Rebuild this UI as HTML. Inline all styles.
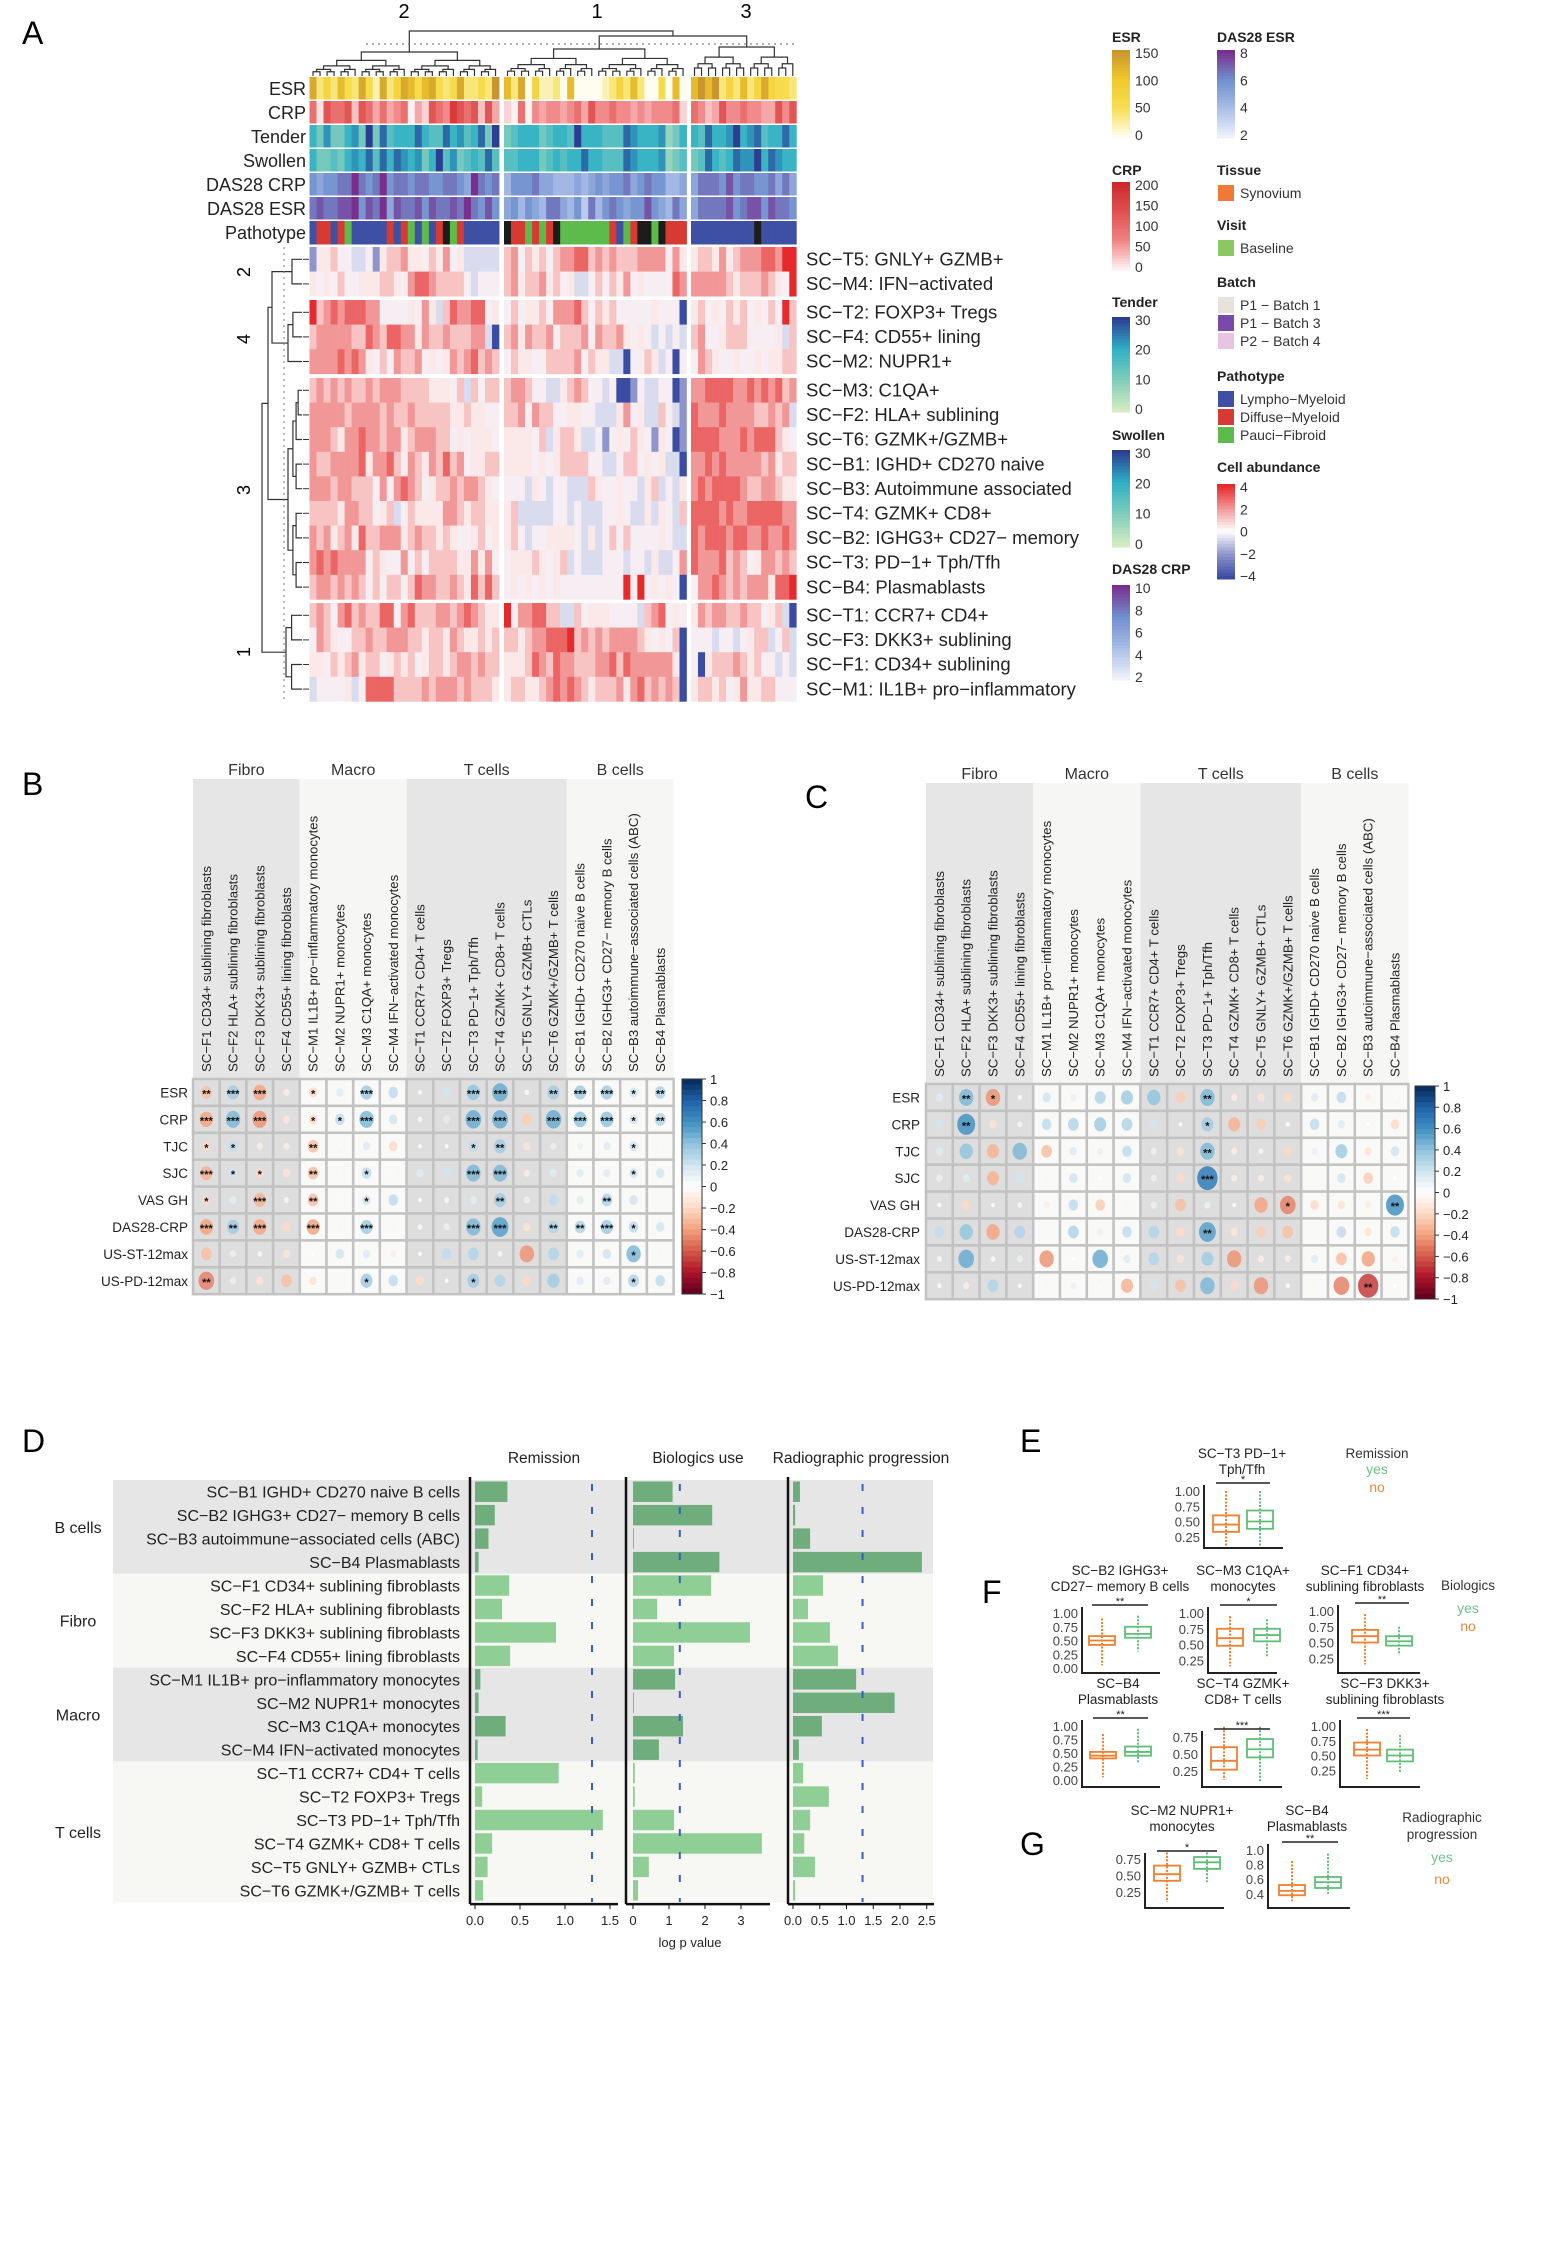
<!DOCTYPE html>
<html><head><meta charset="utf-8"><title>Figure</title>
<style>
html,body{margin:0;padding:0;background:#fff;}
svg{display:block;font-family:"Liberation Sans",Arial,sans-serif;}
</style></head>
<body>
<svg id="fig" xmlns="http://www.w3.org/2000/svg" width="1557" height="2249" viewBox="0 0 1557 2249">
<rect x="0" y="0" width="1557" height="2249" fill="#fff"/>
<text x="22" y="44" font-size="32">A</text>
<text x="22" y="795" font-size="32">B</text>
<text x="805" y="808" font-size="32">C</text>
<text x="22" y="1452" font-size="32">D</text>
<text x="1020" y="1452" font-size="32">E</text>
<text x="982" y="1603" font-size="32">F</text>
<text x="1020" y="1855" font-size="32">G</text>
<g id="gA"></g>
<g id="gB"></g>
<g id="gC"></g>
<g id="gD"></g>
<g id="gE"></g>
</svg>
<script>
// ================= DATA =================
const heatRowNames = ["SC−T5: GNLY+ GZMB+","SC−M4: IFN−activated","SC−T2: FOXP3+ Tregs","SC−F4: CD55+ lining","SC−M2: NUPR1+","SC−M3: C1QA+","SC−F2: HLA+ sublining","SC−T6: GZMK+/GZMB+","SC−B1: IGHD+ CD270 naive","SC−B3: Autoimmune associated","SC−T4: GZMK+ CD8+","SC−B2: IGHG3+ CD27− memory","SC−T3: PD−1+ Tph/Tfh","SC−B4: Plasmablasts","SC−T1: CCR7+ CD4+","SC−F3: DKK3+ sublining","SC−F1: CD34+ sublining","SC−M1: IL1B+ pro−inflammatory"];
const heatRowGroups = [0,0,1,1,1,2,2,2,2,2,2,2,2,2,3,3,3,3];
const heatRows = [
"144533223145564435463422222|56354535667756565556666364|455464566677688",
"434353344455436776555532333|56455645342235354634333376|666665455565438",
"856767776633334364257667734|35344536667535453333343330|453435453435385",
"566666557657766465565556620|56465563555636556434323232|563345553333425",
"666676764353655634346567565|35443355556354422033542303|365433433434455",
"565656556566655554443525355|56653322456533230013223301|667777667676756",
"666665666656556555554454433|55636553344332224634225321|766676666556562",
"666546676656645666553434443|44443524554223134354314301|777766676777543",
"655666674667536546575634455|44443434555533223553434220|667676666656455",
"666566555363676534556566543|33324323322254334332452324|676777765566544",
"555546655345235444466545544|45222223323222334322424325|777767667777766",
"656456475566645655454334534|45323344443242353533334322|767776776676676",
"676766663543363535555446463|34445434523222333233242236|766675653466565",
"566565653535535766556547575|34343434333333333838343430|366765656664778",
"565367565577367555665676544|83667755225344433332567343|465665565534520",
"365433556556665545546544545|55456677785656566665434350|333233234552352",
"443545645534545345545665655|44457657665556675766666640|304555654533232",
"233334237777555565666565554|45544567676545556467565650|455453464455333"];
const annoNames = ["ESR","CRP","Tender","Swollen","DAS28 CRP","DAS28 ESR"];
const annoRows = [
"724263273172476367323722328|62704112060000124262003060|686824262474332",
"617667376464560427658767374|20605455456475565545455562|653475565544757",
"536335638374555754475645738|34555345548555444765556235|547556856745575",
"533435657475765635846345474|44555345455755444765556234|347545766857655",
"545566865685665665566548656|35556443334345455645655334|466657566556464",
"676677857684766757667686575|45354366435263565455754364|466667567757665"];
const pathoRow = "LDDLDGLLLLLDLDGLGLDUGDLLLLL|UDDGDGDUGGGGGGGDLGDUUGUDDD|LLLLLLLLLULLLLL";

const corrCols = ["SC−F1 CD34+ sublining fibroblasts","SC−F2 HLA+ sublining fibroblasts","SC−F3 DKK3+ sublining fibroblasts","SC−F4 CD55+ lining fibroblasts","SC−M1 IL1B+ pro−inflammatory monocytes","SC−M2 NUPR1+ monocytes","SC−M3 C1QA+ monocytes","SC−M4 IFN−activated monocytes","SC−T1 CCR7+ CD4+ T cells","SC−T2 FOXP3+ Tregs","SC−T3 PD−1+ Tph/Tfh","SC−T4 GZMK+ CD8+ T cells","SC−T5 GNLY+ GZMB+ CTLs","SC−T6 GZMK+/GZMB+ T cells","SC−B1 IGHD+ CD270 naive B cells","SC−B2 IGHG3+ CD27− memory B cells","SC−B3 autoimmune−associated cells (ABC)","SC−B4 Plasmablasts"];
const corrRowsLbl = ["ESR","CRP","TJC","SJC","VAS GH","DAS28-CRP","US-ST-12max","US-PD-12max"];
const corrGroups = ["Fibro","Macro","T cells","B cells"];
const corrB = [
[-0.3,0.35,-0.4,-0.1,-0.2,0.15,0.35,0.25,0,0.2,0.4,0.5,-0.05,0.35,0.35,0.35,0.2,0.3],
[-0.4,0.45,-0.45,-0.15,-0.2,0.25,0.45,0.2,0.03,0.15,0.5,0.5,-0.25,0.5,0.4,0.4,0.2,0.3],
[-0.2,0.25,-0.1,-0.1,-0.3,0.02,0.15,-0.2,0,0,0.25,0.35,-0.15,0.1,0.1,0.15,0.2,0.03],
[-0.35,0.2,-0.2,-0.15,-0.3,0.02,0.25,0.02,0.15,0.2,0.45,0.45,-0.1,0.15,0.15,0.15,0.2,0.2],
[-0.2,0.15,-0.35,-0.05,-0.3,0.03,0.2,0.25,0,0.05,0.15,0.35,-0.1,0.25,0.15,0.3,0.2,0.05],
[-0.4,0.35,-0.4,-0.2,-0.4,0.05,0.35,0.05,0.05,0.1,0.45,0.55,-0.15,0.3,0.3,0.35,0.25,0.2],
[-0.3,0.1,-0.05,-0.15,0,0.2,0.15,-0.1,0,0.25,0.3,-0.05,-0.45,0.3,0.15,0.2,0.45,0.05],
[-0.5,0.1,-0.15,-0.3,-0.15,0.05,0.35,0.25,-0.2,0,0.35,0.3,-0.2,0.35,0.15,0.15,0.3,0.25]];
const starsB = [
"2,3,3,0,1,0,3,0,0,0,3,3,0,2,3,3,1,2","3,3,3,0,1,1,3,0,0,0,3,3,0,3,3,3,1,2","1,1,0,0,2,0,0,0,0,0,1,2,0,0,0,0,1,0","3,1,1,0,2,0,1,0,0,0,3,3,0,0,0,0,1,0",
"1,0,3,0,2,0,1,0,0,0,0,2,0,0,0,2,0,0","3,2,3,0,3,0,3,0,0,0,3,3,0,2,2,3,1,0","0,0,0,0,0,0,0,0,0,0,0,0,0,0,0,0,1,0","2,0,0,0,0,0,1,0,0,0,1,0,0,0,0,0,1,0"];
const corrC = [
[0.15,0.45,-0.45,-0.03,0.2,0.1,0.3,0.35,0.4,-0.25,0.45,-0.1,-0.15,-0.2,0.15,0.25,-0.1,-0.02],
[0.2,0.6,-0.15,-0.05,0.25,0.3,0.35,0.3,0.2,0,0.35,-0.35,-0.25,-0.03,0.25,0.15,0,-0.2],
[0.15,0.4,-0.35,0.45,-0.3,0.15,0.1,0.25,0.1,-0.15,0.45,-0.1,-0.05,-0.2,0.1,0.35,-0.15,0.2],
[0.1,0.15,-0.35,0.2,-0.05,0.2,0,0.2,0.1,-0.2,0.7,-0.1,-0.1,-0.15,0.05,0.2,-0.25,0],
[0.02,-0.2,0,0.05,-0.1,0.25,-0.25,-0.05,0.1,-0.3,0.1,0,-0.4,-0.5,-0.2,-0.15,-0.1,0.6],
[0.25,0.4,-0.4,0.3,-0.05,0.3,0.1,0.25,0.3,-0.2,0.55,-0.15,-0.25,-0.3,0.05,0.25,-0.15,0.25],
[0.05,0.5,0.05,0.1,-0.45,0,0.5,0.15,0.3,-0.15,0.35,-0.45,-0.1,-0.1,0.15,-0.3,-0.4,-0.1],
[0.02,-0.1,0.3,0,-0.05,0.1,-0.03,-0.35,0.2,-0.3,0.45,-0.2,-0.45,-0.02,-0.05,-0.5,-0.7,0]];
const starsC = [
"0,2,1,0,0,0,0,0,0,0,2,0,0,0,0,0,0,0","0,2,0,0,0,0,0,0,0,0,1,0,0,0,0,0,0,0","0,0,0,0,0,0,0,0,0,0,2,0,0,0,0,0,0,0","0,0,0,0,0,0,0,0,0,0,3,0,0,0,0,0,0,0",
"0,0,0,0,0,0,0,0,0,0,0,0,0,1,0,0,0,2","0,0,0,0,0,0,0,0,0,0,2,0,0,0,0,0,0,0","0,0,0,0,0,0,0,0,0,0,0,0,0,0,0,0,0,0","0,0,0,0,0,0,0,0,0,0,0,0,0,0,0,0,2,0"];
const cbTicks = ["1","0.8","0.6","0.4","0.2","0","−0.2","−0.4","−0.6","−0.8","−1"];

const dRows = ["SC−B1 IGHD+ CD270 naive B cells","SC−B2 IGHG3+ CD27− memory B cells","SC−B3 autoimmune−associated cells (ABC)","SC−B4 Plasmablasts","SC−F1 CD34+ sublining fibroblasts","SC−F2 HLA+ sublining fibroblasts","SC−F3 DKK3+ sublining fibroblasts","SC−F4 CD55+ lining fibroblasts","SC−M1 IL1B+ pro−inflammatory monocytes","SC−M2 NUPR1+ monocytes","SC−M3 C1QA+ monocytes","SC−M4 IFN−activated monocytes","SC−T1 CCR7+ CD4+ T cells","SC−T2 FOXP3+ Tregs","SC−T3 PD−1+ Tph/Tfh","SC−T4 GZMK+ CD8+ T cells","SC−T5 GNLY+ GZMB+ CTLs","SC−T6 GZMK+/GZMB+ T cells"];
const dGroups = ["B cells","Fibro","Macro","T cells"];
const remission = [0.36,0.22,0.15,0.04,0.38,0.3,0.9,0.39,0.06,0.04,0.34,0.03,0.93,0.08,1.42,0.19,0.14,0.09];
const biologics = [1.1,2.2,0.02,2.4,2.17,0.67,3.25,1.14,1.17,0,1.39,0.72,0.05,0.05,1.14,3.58,0.44,0.14];
const radiographic = [0.13,0.04,0.32,2.41,0.56,0.28,0.69,0.84,1.18,1.9,0.54,0.11,0.19,0.67,0.32,0.21,0.41,0.04];
const remTicks = ["0.0","0.5","1.0","1.5"];
const bioTicks = ["0","1","2","3"];
const radTicks = ["0.0","0.5","1.0","1.5","2.0","2.5"];
const sigThreshold = 1.3;

const boxTitles = [["SC−T3 PD−1+","Tph/Tfh"],["SC−B2 IGHG3+","CD27− memory B cells"],["SC−M3 C1QA+","monocytes"],["SC−F1 CD34+","sublining fibroblasts"],["SC−B4","Plasmablasts"],["SC−T4 GZMK+","CD8+ T cells"],["SC−F3 DKK3+","sublining fibroblasts"],["SC−M2 NUPR1+","monocytes"],["SC−B4","Plasmablasts"]];
const boxNo = [[0.1,0.33,0.45,0.6,1.0],[0.05,0.42,0.5,0.58,0.9],[0.15,0.48,0.6,0.75,0.95],[0.15,0.5,0.6,0.7,0.95],[0.05,0.4,0.45,0.52,0.85],[0.12,0.27,0.4,0.6,0.9],[0.1,0.5,0.6,0.72,0.95],[0.1,0.42,0.52,0.65,0.85],[0.3,0.38,0.44,0.52,0.85]];
const boxYes = [[0.1,0.38,0.5,0.68,1.0],[0.3,0.55,0.62,0.75,0.95],[0.3,0.55,0.65,0.75,0.9],[0.3,0.45,0.52,0.6,0.75],[0.3,0.45,0.52,0.62,0.95],[0.1,0.45,0.57,0.72,0.9],[0.2,0.4,0.5,0.6,0.85],[0.4,0.6,0.7,0.78,0.85],[0.38,0.48,0.56,0.63,0.95]];
const boxSig = ["*","**","*","**","**","***","***","*","**"];
const boxTickSets = [["1.00","0.75","0.50","0.25"],["1.00","0.75","0.50","0.25","0.00"],["1.00","0.75","0.50","0.25"],["1.00","0.75","0.50","0.25"],["1.00","0.75","0.50","0.25","0.00"],["0.75","0.50","0.25"],["1.00","0.75","0.50","0.25"],["0.75","0.50","0.25"],["1.0","0.8","0.6","0.4"]];

// ================= HELPERS =================
const NS = "http://www.w3.org/2000/svg";
function mk(tag, attrs, parent){const e=document.createElementNS(NS,tag);for(const k in attrs)e.setAttribute(k,attrs[k]);parent.appendChild(e);return e;}
function txt(s, attrs, parent){const e=mk("text",attrs,parent);e.textContent=s;return e;}
function hex(c){return [parseInt(c.slice(1,3),16),parseInt(c.slice(3,5),16),parseInt(c.slice(5,7),16)];}
function ramp(stops, t){t=Math.max(0,Math.min(1,t));const n=stops.length-1;const i=Math.min(n-1,Math.floor(t*n));const f=t*n-i;const a=hex(stops[i]),b=hex(stops[i+1]);return "rgb("+a.map((v,k)=>Math.round(v+(b[k]-v)*f)).join(",")+")";}
const heatStops=["#3b4ca3","#8e95cc","#d9dbee","#f6eef2","#fbe9e9","#f7c3c3","#f19797","#ec6565","#e62a2c"];
function heatCol(d){const s=heatStops;return s[Math.max(0,Math.min(8,d))];}
const rdbu=["#67001f","#b2182b","#d6604d","#f4a582","#fddbc7","#ffffff","#d1e5f0","#92c5de","#4393c3","#2166ac","#053061"];
const annoStops=[["#fffdf0","#f7de52","#f0c92c","#c9962e"],["#fdf0f0","#f9caca","#f08282","#d93a3a"],["#d4ecc0","#7fcdbb","#2fb0c6","#2c3e92"],["#d4ecc0","#7fcdbb","#2fb0c6","#2c3e92"],["#eef1fa","#a9bde6","#6f8fce","#7a2f8f"],["#eef1fa","#a9bde6","#6f8fce","#7a2f8f"]];
const pathoColors={L:"#3d50a3",D:"#d63a33",G:"#5dbb4c",U:"#1c1c1c"};

// ================= PANEL A =================
(function(){
 const g=document.getElementById("gA");
 const colW=7.02, clusterX=[309.5,504,691], rowH=24.6;
 const annoY=[77,101,125,149,173,197,221], annoH=22.5;
 const groupY=[247,300,378,603];
 function rowY(i){const grp=heatRowGroups[i];let first=heatRowGroups.indexOf(grp);return groupY[grp]+(i-first)*rowH;}
 annoRows.forEach((r,ri)=>{
  const parts=r.split("|");
  parts.forEach((p,ci)=>{for(let j=0;j<p.length;j++){
   const v=+p[j];
   const el=mk("rect",{x:clusterX[ci]+j*colW,y:annoY[ri],width:colW+0.4,height:annoH,fill:ramp(annoStops[ri],v/8)},g);
   
   
  }});
  const l=txt(annoNames[ri],{x:306,y:annoY[ri]+18,"font-size":18,"text-anchor":"end",fill:"#222"},g);
  
  
 });
 pathoRow.split("|").forEach((p,ci)=>{for(let j=0;j<p.length;j++){
  const el=mk("rect",{x:clusterX[ci]+j*colW,y:annoY[6],width:colW+0.4,height:annoH+1,fill:pathoColors[p[j]]},g);
  
  
 }});
 const pl=txt("Pathotype",{x:306,y:annoY[6]+18,"font-size":18,"text-anchor":"end",fill:"#222"},g);
 
 
 heatRows.forEach((r,ri)=>{
  const y=rowY(ri);
  r.split("|").forEach((p,ci)=>{for(let j=0;j<p.length;j++){
   const el=mk("rect",{x:clusterX[ci]+j*colW,y:y,width:colW+0.3,height:rowH+0.3,fill:heatCol(+p[j])},g);
   
   
  }});
  const l=txt(heatRowNames[ri],{x:806,y:y+18.5,"font-size":18.5,fill:"#222"},g);
  
  
  const tk=mk("line",{x1:303,x2:309,y1:y+rowH/2,y2:y+rowH/2,stroke:"#333","stroke-width":1},g);
  
  
 });
 function ctree(x0,n,top,bot){
  if(n===1)return {x:x0+colW/2,y:bot};
  const a=Math.ceil(n/2);
  const h=top+(bot-top)*0.35;
  const L=ctree(x0,a,h,bot),R=ctree(x0+a*colW,n-a,h,bot);
  const p=mk("path",{d:`M${L.x},${L.y}V${top}H${R.x}V${R.y}`,fill:"none",stroke:"#333","stroke-width":1.2},g);
  
  
  return {x:(L.x+R.x)/2,y:top};
 }
 const c2=ctree(clusterX[0],27,52,76), c1=ctree(clusterX[1],26,49,76), c3=ctree(clusterX[2],15,47,76);
 const j13=mk("path",{d:`M${c1.x},${c1.y}V36H${c3.x}V${c3.y}`,fill:"none",stroke:"#333","stroke-width":1.2},g);
 
 
 const mid=(c1.x+c3.x)/2;
 const root=mk("path",{d:`M${c2.x},${c2.y}V31H${mid}V36`,fill:"none",stroke:"#333","stroke-width":1.2},g);
 
 
 const dot=mk("line",{x1:366,x2:796,y1:44,y2:44,stroke:"#666","stroke-width":1,"stroke-dasharray":"2,4"},g);
 
 
 [["2",404],["1",597],["3",746]].forEach(([s,x])=>{const t=txt(s,{x:x,y:18,"font-size":20,"text-anchor":"middle"},g);
  
  });
 function rtree(i0,n,left,right){
  if(n===1)return {y:rowY(i0)+rowH/2,x:right};
  const a=Math.ceil(n/2);const h=left+(right-left)*0.35;
  const T=rtree(i0,a,h,right),B=rtree(i0+a,n-a,h,right);
  const p=mk("path",{d:`M${T.x},${T.y}H${left}V${B.y}H${B.x}`,fill:"none",stroke:"#333","stroke-width":1.2},g);
  
  
  return {y:(T.y+B.y)/2,x:left};
 }
 const gs=[[0,2,292],[2,3,288],[5,9,288],[14,4,286]].map(([i,n,l])=>rtree(i,n,l,302));
 const link=(A,B,x)=>{const p=mk("path",{d:`M${A.x},${A.y}H${x}V${B.y}H${B.x}`,fill:"none",stroke:"#333","stroke-width":1.2},g);
  
  return {x:x,y:(A.y+B.y)/2};};
 const a24=link(gs[0],gs[1],272), a243=link(a24,gs[2],268), all=link(a243,gs[3],262);
 const rd=mk("line",{x1:284,x2:284,y1:247,y2:702,stroke:"#777","stroke-width":1,"stroke-dasharray":"2,4"},g);
 
 
 [["2",272],["4",339],["3",490],["1",652]].forEach(([s,y])=>{const t=txt(s,{x:0,y:0,"font-size":18,"text-anchor":"middle",transform:`translate(250,${y}) rotate(-90)`},g);
  
  });
 const bars=[["ESR",1112,42,50,138,["150","100","50","0"],annoStops[0]],["CRP",1112,175,182,270,["200","150","100","50","0"],["#fdf0f0","#f08282","#e05050","#cc2a2a"]],["Tender",1112,307,317,412,["30","20","10","0"],annoStops[2]],["Swollen",1112,440,450,547,["30","20","10","0"],annoStops[3]],["DAS28 CRP",1112,574,585,680,["10","8","6","4","2"],annoStops[4]],["DAS28 ESR",1217,42,50,138,["8","6","4","2"],annoStops[5]],["Cell abundance",1217,472,484,579,["4","2","0","−2","−4"],[heatStops[8],heatStops[6],"#ffffff",heatStops[1],heatStops[0]].reverse()]];
 bars.forEach(([title,x,ty,y0,y1,ticks,stops],bi)=>{
  const t=txt(title,{x:x,y:ty,"font-size":14,"font-weight":"bold",fill:"#222"},g);
  
  
  const N=30;for(let k=0;k<N;k++){const r=mk("rect",{x:x,y:y0+(y1-y0)*k/N,width:18,height:(y1-y0)/N+0.5,fill:ramp(stops,1-k/(N-1))},g);
   
   }
  ticks.forEach((s,k)=>{const yy=y0+3+(y1-y0-6)*k/(ticks.length-1);
   const l=txt(s,{x:x+23,y:yy+5,"font-size":14,fill:"#333"},g);
   
   });
 });
 const cats=[["Tissue",175,[["Synovium","#f07a35"]]],["Visit",230,[["Baseline","#8cc862"]]],["Batch",287,[["P1 − Batch 1","#e9e2dc"],["P1 − Batch 3","#7a4aa8"],["P2 − Batch 4","#e8c4e4"]]],["Pathotype",381,[["Lympho−Myeloid","#3d50a3"],["Diffuse−Myeloid","#d63a33"],["Pauci−Fibroid","#5dbb4c"]]]];
 cats.forEach(([title,ty,items])=>{
  const t=txt(title,{x:1217,y:ty,"font-size":14,"font-weight":"bold",fill:"#222"},g);
  
  
  items.forEach(([s,c],k)=>{const yy=ty+10+k*18;
   const r=mk("rect",{x:1218,y:yy,width:16,height:16,fill:c},g);
   
   
   const l=txt(s,{x:1240,y:yy+13,"font-size":14,fill:"#333"},g);
   
   });
 });
})();

// ================= PANELS B & C =================
function corrPanel(gid,x0,y0,cw,rh,bandTop,hdrY,mat,stars,cbx,cby0,cby1,labBottom,rowLabX){
 const g=document.getElementById(gid);
 const groupStart=[0,4,8,14,18];
 for(let k=0;k<4;k++){
  const xa=x0+groupStart[k]*cw, xb=x0+groupStart[k+1]*cw;
  const b=mk("rect",{x:xa,y:bandTop,width:xb-xa,height:y0+8*rh-bandTop,fill:(k%2===0)?"#e6e6e6":"#f6f6f4"},g);
  
  
  const h=txt(corrGroups[k],{x:(xa+xb)/2,y:hdrY,"font-size":16,"text-anchor":"middle",fill:"#333"},g);
  
  
 }
 corrCols.forEach((s,j)=>{const t=txt(s,{x:0,y:0,"font-size":13.2,fill:"#222",transform:`translate(${x0+j*cw+cw/2+4.5},${labBottom}) rotate(-90)`},g);
  
  });
 mat.forEach((row,i)=>{
  const st=stars[i].split(",").map(Number);
  row.forEach((v,j)=>{
   const grp=j<4?0:j<8?1:j<14?2:3;
   const cx=x0+j*cw, cy=y0+i*rh;
   const c=mk("rect",{x:cx,y:cy,width:cw,height:rh,fill:(grp%2===0)?"#dedede":"#f9f9f8",stroke:"#c2c2c2","stroke-width":2.5},g);
   
   
   const r=2+Math.abs(v)*13;
   const e=mk("ellipse",{cx:cx+cw/2,cy:cy+rh/2,rx:r*0.92,ry:r*1.08,fill:ramp(rdbu,(v+1)/2),opacity:0.85},g);
   
   
   if(st[j]>0){const s=txt("*".repeat(st[j]),{x:cx+cw/2,y:cy+rh/2+5,"font-size":11,"text-anchor":"middle","font-weight":"bold",fill:"#111"},g);
    
    }
  });
  const l=txt(corrRowsLbl[i],{x:rowLabX,y:y0+i*rh+rh/2+5,"font-size":13.5,"text-anchor":"end",fill:"#222"},g);
  
  
 });
 const N=40;for(let k=0;k<N;k++){const r=mk("rect",{x:cbx,y:cby0+(cby1-cby0)*k/N,width:20,height:(cby1-cby0)/N+0.5,fill:ramp(rdbu,1-k/(N-1))},g);
  
  }
 const fr=mk("rect",{x:cbx,y:cby0,width:20,height:cby1-cby0,fill:"none",stroke:"#333","stroke-width":1},g);
 
 
 cbTicks.forEach((s,k)=>{const yy=cby0+(cby1-cby0)*k/10;
  const t=txt(s,{x:cbx+28,y:yy+5,"font-size":13,fill:"#222"},g);
  
  
  const tk=mk("line",{x1:cbx+20,x2:cbx+24,y1:yy,y2:yy,stroke:"#333"},g);
  
  });
}
corrPanel("gB",193,1079,26.7,26.9,779,775,corrB,starsB,682,1079,1294,1072,188);
corrPanel("gC",926,1084,26.8,26.9,783,779,corrC,starsC,1415,1086,1299,1077,920);

// ================= PANEL D =================
(function(){
 const g=document.getElementById("gD");
 const y0=1480, rh=23.45, n=dRows.length;
 const gStart=[0,4,8,12,18];
 for(let k=0;k<4;k++){
  const b=mk("rect",{x:113,y:y0+gStart[k]*rh,width:820,height:(gStart[k+1]-gStart[k])*rh,fill:(k%2===0)?"#e6e6e6":"#f7f7f4"},g);
  
  
  const t=txt(dGroups[k],{x:78,y:y0+(gStart[k]+gStart[k+1])/2*rh+6,"font-size":16,"text-anchor":"middle",fill:"#222"},g);
  
  
 }
 dRows.forEach((s,i)=>{const t=txt(s,{x:460,y:y0+i*rh+rh/2+6,"font-size":16,"text-anchor":"end",fill:"#222"},g);
  
  });
 const panels=[["Remission",remission,475,90,470,618,remTicks,0.5],["Biologics use",biologics,633,36,626,770,bioTicks,1],["Radiographic progression",radiographic,793,53.5,788,934,radTicks,0.5]];
 panels.forEach(([title,vals,x0,sc,axX,axEnd,ticks,step])=>{
  const sx=v=>x0+v*sc;
  const t=txt(title,{x:(axX+axEnd)/2,y:1463,"font-size":15.5,"text-anchor":"middle",fill:"#222"},g);
  
  
  vals.forEach((v,i)=>{const grp=i<4?0:i<8?1:i<12?2:3;
   const b=mk("rect",{x:sx(0),y:y0+i*rh+1.5,width:Math.max(0.8,sx(v)-sx(0)),height:rh-3,fill:(grp%2===0)?"#6fae7c":"#8fcf96"},g);
   
   });
  const d=mk("line",{x1:sx(sigThreshold),x2:sx(sigThreshold),y1:y0+4,y2:y0+n*rh,stroke:"#3b5bc6","stroke-width":2,"stroke-dasharray":"7,16"},g);
  
  
  const va=mk("line",{x1:axX,x2:axX,y1:y0-3,y2:y0+n*rh+2,stroke:"#111","stroke-width":2.5},g);
  
  
  const ha=mk("line",{x1:axX,x2:axEnd,y1:y0+n*rh+2,y2:y0+n*rh+2,stroke:"#111","stroke-width":2.5},g);
  
  
  ticks.forEach((s,k)=>{const xx=sx(k*step);
   const tl=txt(s,{x:xx,y:1925,"font-size":13,"text-anchor":"middle",fill:"#222"},g);
   
   
   const tk=mk("line",{x1:xx,x2:xx,y1:y0+n*rh+3,y2:y0+n*rh+7,stroke:"#111"},g);
   
   });
 });
 const xl=txt("log p value",{x:690,y:1947,"font-size":13,"text-anchor":"middle",fill:"#222"},g);
 
 
})();

// ================= PANELS E/F/G =================
(function(){
 const g=document.getElementById("gE");
 const layout=[
  [1204,1491,61,1.0,1548,1283,1226,1260,1242,1458],
  [1082,1613,55,1.0,1673,1160,1102,1138,1120,1575],
  [1208,1613,63,1.0,1673,1277,1230,1267,1243,1575],
  [1338,1611,63,1.0,1673,1420,1365,1399,1365,1575],
  [1082,1726,54,1.0,1787,1160,1103,1138,1118,1688],
  [1202,1737,68,0.75,1787,1282,1224,1260,1243,1688],
  [1340,1726,59,1.0,1787,1420,1367,1400,1385,1688],
  [1145,1859,66,0.75,1908,1224,1167,1207,1182,1815],
  [1268,1850,73,1.0,1908,1350,1292,1328,1307,1815]];
 layout.forEach((L,p)=>{
  const [ax,ty,sc,tv,bot,rx,bx1,bx2,tx,tty]=L;
  const sy=v=>ty+(tv-v)*sc;
  boxTitles[p].forEach((s,k)=>{const t=txt(s,{x:tx,y:tty+k*16,"font-size":13.5,"text-anchor":"middle",fill:"#222"},g);
   
   });
  const axl=mk("path",{d:`M${ax},${sy(tv)-6}V${bot}H${rx}`,fill:"none",stroke:"#222","stroke-width":2},g);
  
  
  const step=boxTickSets[p].length>1?(+boxTickSets[p][0]-(+boxTickSets[p][1])):0.25;
  boxTickSets[p].forEach((s,k)=>{const t=txt(s,{x:ax-4,y:sy(tv-k*step)+5,"font-size":13,"text-anchor":"end",fill:"#444"},g);
   
   });
  [[boxNo[p],bx1,"#f07f2e"],[boxYes[p],bx2,"#5fbf78"]].forEach(([b,cx,col],gi)=>{
   const w=mk("line",{x1:cx,x2:cx,y1:sy(b[4]),y2:sy(b[0]),stroke:col,"stroke-width":2,"stroke-dasharray":"2,1.5"},g);
   
   
   const r=mk("rect",{x:cx-13,y:sy(b[3]),width:26,height:sy(b[1])-sy(b[3]),fill:"none",stroke:col,"stroke-width":1.8},g);
   
   
   const m=mk("line",{x1:cx-13,x2:cx+13,y1:sy(b[2]),y2:sy(b[2]),stroke:col,"stroke-width":1.8},g);
   
   
  });
  const sb=mk("line",{x1:bx1-10,x2:bx2+10,y1:sy(tv)-8,y2:sy(tv)-8,stroke:"#222","stroke-width":1.6},g);
  
  
  const st=txt(boxSig[p],{x:(bx1+bx2)/2,y:sy(tv)-8,"font-size":11,"text-anchor":"middle",fill:"#222"},g);
  
  
 });
 const legs=[[1377,1458,["Remission"],1474],[1468,1590,["Biologics"],1613],[1442,1822,["Radiographic","progression"],1862]];
 legs.forEach(([x,y,lines,yy])=>{
  lines.forEach((s,k)=>{const t=txt(s,{x:x,y:y+k*17,"font-size":13.5,"text-anchor":"middle",fill:"#333"},g);
   
   });
  const a=txt("yes",{x:x,y:yy,"font-size":14,"text-anchor":"middle",fill:"#6cc28a"},g);
  
  
  const b=txt("no",{x:x,y:yy+(lines.length>1?22:18),"font-size":14,"text-anchor":"middle",fill:"#f0893c"},g);
  
  
 });
})();
</script>
</body></html>
